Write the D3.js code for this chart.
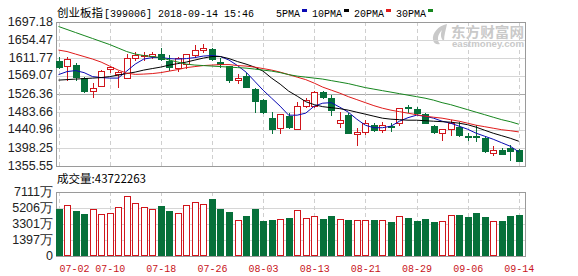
<!DOCTYPE html>
<html><head><meta charset="utf-8">
<script src="https://cdn.jsdelivr.net/npm/d3@7"></script>
<style>html,body{margin:0;padding:0;background:#fff;}svg{display:block;}</style>
</head><body><svg id="c" width="578" height="276"></svg>
<script>
const dates = ["07-02","07-03","07-04","07-05","07-06","07-09","07-10","07-11","07-12","07-13","07-16","07-17","07-18","07-19","07-20","07-23","07-24","07-25","07-26","07-27","07-30","07-31","08-01","08-02","08-03","08-06","08-07","08-08","08-09","08-10","08-13","08-14","08-15","08-16","08-17","08-20","08-21","08-22","08-23","08-24","08-27","08-28","08-29","08-30","08-31","09-03","09-04","09-05","09-06","09-07","09-10","09-11","09-12","09-13","09-14"];
const open  = [1605.7,1592.6,1595.0,1564.8,1533.2,1545.8,1584.7,1573.6,1565.3,1612.3,1617.6,1617.1,1621.1,1605.2,1587.1,1596.6,1618.7,1629.9,1632.3,1601.4,1592.6,1559.3,1568.8,1537.9,1511.8,1470.6,1445.9,1474.9,1444.5,1498.2,1498.2,1531.5,1517.2,1458.7,1476.1,1430.9,1436.4,1454.0,1440.4,1450.0,1456.4,1495.1,1490.4,1477.8,1450.0,1434.0,1444.5,1449.2,1427.4,1427.4,1423.1,1386.5,1392.9,1398.4,1392.9];
const high  = [1614.0,1613.3,1599.0,1566.4,1551.5,1583.1,1593.8,1580.7,1620.4,1626.6,1626.6,1626.6,1634.7,1618.7,1614.7,1621.1,1642.5,1644.2,1636.1,1610.9,1592.6,1572.9,1576.0,1540.3,1514.1,1483.9,1480.1,1480.9,1507.7,1515.8,1533.2,1533.2,1523.6,1483.9,1480.9,1445.2,1464.2,1457.1,1460.2,1457.1,1493.5,1499.9,1495.1,1481.5,1452.3,1444.5,1464.2,1460.2,1434.0,1452.3,1426.2,1402.4,1397.6,1404.8,1395.3];
const low   = [1587.8,1559.3,1559.3,1530.8,1519.6,1545.0,1578.3,1542.7,1564.1,1606.9,1606.9,1610.9,1606.9,1583.1,1580.7,1587.1,1614.7,1626.6,1606.9,1590.9,1555.3,1551.5,1542.7,1483.9,1480.9,1435.0,1435.0,1445.2,1442.8,1495.8,1495.8,1515.8,1476.1,1448.3,1433.3,1404.8,1432.6,1438.1,1436.4,1438.1,1452.3,1483.9,1479.5,1456.4,1433.3,1416.7,1428.6,1426.2,1416.7,1415.0,1388.8,1381.0,1383.4,1370.8,1366.7];
const close = [1590.2,1608.5,1567.2,1533.2,1539.6,1581.4,1590.9,1578.3,1612.8,1618.7,1619.9,1620.4,1609.2,1590.9,1610.9,1620.4,1630.6,1634.7,1609.2,1596.6,1559.3,1563.4,1543.4,1509.4,1482.5,1444.5,1477.8,1448.3,1498.2,1511.8,1530.1,1519.6,1488.0,1464.2,1435.0,1436.4,1458.7,1440.4,1454.0,1447.6,1492.0,1492.7,1481.5,1458.7,1436.4,1442.8,1456.4,1429.7,1425.0,1425.0,1391.2,1394.6,1385.0,1391.2,1367.5];
// volume in 万 (10k)
const volume = [5140,5614,4824,4508,5140,4469,4587,5377,6601,5851,5377,5140,5417,4824,4666,5535,5970,5653,6246,5140,4706,3837,4232,5140,3639,3758,3955,4074,5022,4074,4311,3876,4232,3955,3758,3837,3837,3837,3837,3521,4311,3995,3639,3876,3521,3718,4429,4350,4113,4587,4113,3600,3639,4232,4372];
const ma5  = [1572.4,1579.5,1581.9,1577.1,1567.6,1565.3,1564.1,1564.1,1580.7,1597.3,1609.2,1612.8,1612.8,1610.4,1609.2,1610.4,1612.8,1616.4,1617.6,1615.2,1606.9,1593.8,1578.3,1556.9,1535.5,1516.5,1497.5,1476.1,1476.1,1480.9,1497.5,1504.6,1505.8,1495.1,1483.2,1466.6,1452.3,1446.4,1446.4,1450.0,1461.8,1470.2,1476.1,1473.7,1469.0,1461.8,1457.1,1450.0,1442.8,1433.3,1426.2,1419.0,1410.7,1402.4,1389.0];
const ma10 = [1559.3,1560.5,1561.7,1562.9,1564.1,1565.3,1567.6,1571.2,1574.8,1578.3,1583.1,1586.7,1590.2,1595.0,1598.5,1602.1,1606.9,1611.6,1615.2,1615.2,1610.4,1603.3,1597.3,1590.2,1580.7,1564.1,1549.8,1533.2,1521.3,1508.2,1501.1,1496.3,1493.9,1491.6,1488.0,1483.2,1478.5,1473.7,1469.0,1466.6,1465.4,1464.2,1464.2,1463.0,1461.8,1460.7,1459.5,1457.1,1453.5,1447.6,1440.4,1433.3,1427.4,1421.4,1414.3];
const ma20 = [1630.6,1627.1,1621.1,1615.2,1609.2,1602.1,1592.6,1583.1,1576.0,1572.9,1573.6,1574.8,1577.1,1580.7,1584.3,1589.0,1591.4,1593.8,1595.0,1596.2,1596.2,1593.8,1592.6,1590.2,1586.7,1583.1,1578.3,1572.4,1566.4,1560.5,1552.2,1542.7,1535.5,1528.4,1520.1,1513.0,1505.8,1498.7,1492.7,1488.0,1484.4,1480.9,1477.3,1473.7,1471.3,1469.0,1465.4,1461.8,1457.1,1452.3,1448.8,1445.2,1441.6,1439.3,1436.4];
const ma30 = [1686.5,1679.4,1672.2,1665.1,1658.0,1650.8,1643.7,1635.4,1627.1,1621.1,1617.6,1615.2,1612.8,1606.9,1602.1,1597.3,1595.0,1593.8,1592.6,1591.4,1590.2,1589.0,1587.8,1585.5,1583.1,1580.7,1577.1,1572.4,1568.8,1566.4,1564.1,1561.7,1558.1,1554.6,1551.0,1546.2,1541.5,1537.9,1534.3,1530.8,1527.2,1523.6,1520.1,1516.5,1511.8,1505.8,1501.1,1495.1,1489.2,1483.2,1477.3,1471.3,1465.4,1460.7,1454.7];
const priceTicks = [1355.55,1398.25,1440.96,1483.66,1526.36,1569.07,1611.77,1654.47,1697.18];
const volTickValues = [-508,1397,3301,5206,7111];
const volTickLabels = ["0","1397万","3301万","5206万","7111万"];
const xTickDates = ["07-02","07-10","07-18","07-26","08-03","08-13","08-21","08-29","09-06","09-14"];
const maNames = ["5PMA","10PMA","20PMA","30PMA"];
const titleName = "创业板指";
const titleRest = "[399006] 2018-09-14 15:46";
const volCaption = "成交量:43722263";

const UP = "#d0151b", DOWN = "#06703a";
const maColors = ["#0a0ab4","#000000","#e01b1b","#16861e"];

const svg = d3.select("#c");
const L = 56.5, R = 525;
const x = d3.scalePoint().domain(dates).range([58.5, 518.8]);
const y = d3.scaleLinear().domain([1355.55, 1697.18]).range([166, 22]);
const yv = d3.scaleLinear().domain([-508, 7111]).range([256, 192]);

function mono(g, str, px, py, anchor, fill) {
  return g.append("text").attr("x", px).attr("y", py)
    .attr("font-family", "'Liberation Mono', 'DejaVu Sans Mono', monospace")
    .attr("font-size", 11.5).attr("textLength", str.length * 6)
    .attr("lengthAdjust", "spacingAndGlyphs")
    .attr("text-anchor", anchor || "start").attr("fill", fill || "#000").text(str);
}

// watermark
const wm = svg.append("g").attr("fill", "#c9c9c9");
wm.append("path").attr("d", "M447,24 C438,26 432,33 433,40 C434,44 437,45 440,44 C437,41 437,35 442,30 C440,35 441,39 444,41 C444,35 446,29 447,24 Z");
wm.append("text").attr("x", 451).attr("y", 36.5).attr("font-family", "'Noto Sans CJK SC', sans-serif")
  .attr("font-size", 14).attr("font-weight", "bold").attr("textLength", 73).attr("lengthAdjust", "spacingAndGlyphs").text("东方财富网");
wm.append("text").attr("x", 452).attr("y", 47).attr("font-family", "'Liberation Sans', Arial, sans-serif")
  .attr("font-size", 8.5).attr("font-weight", "bold").attr("textLength", 72).attr("lengthAdjust", "spacingAndGlyphs").text("eastmoney.com");

// grids main
const grid = svg.append("g").attr("shape-rendering", "crispEdges");
priceTicks.forEach((t, i) => {
  const yy = Math.round(y(t)) + 0.5;
  grid.append("line").attr("x1", L).attr("x2", R).attr("y1", yy).attr("y2", yy)
    .attr("stroke", i === 4 ? "#a8a8a8" : "#d6d6d6");
});
volTickValues.forEach((t, i) => {
  if (i === 0 || i === volTickValues.length - 1) return;
  const yy = Math.round(yv(t)) + 0.5;
  grid.append("line").attr("x1", L).attr("x2", R).attr("y1", yy).attr("y2", yy).attr("stroke", "#d6d6d6");
});
xTickDates.forEach(d => {
  const xx = Math.round(x(d)) + 0.5;
  grid.append("line").attr("x1", xx).attr("x2", xx).attr("y1", 22).attr("y2", 166)
    .attr("stroke", "#cfcfcf").attr("stroke-dasharray", "4,3");
  grid.append("line").attr("x1", xx).attr("x2", xx).attr("y1", 192).attr("y2", 256)
    .attr("stroke", "#cfcfcf").attr("stroke-dasharray", "4,3");
});
// frames
grid.append("rect").attr("x", L).attr("y", 22.5).attr("width", R - L).attr("height", 166 - 22.5)
  .attr("fill", "none").attr("stroke", "#9a9a9a");
grid.append("rect").attr("x", L).attr("y", 192.5).attr("width", R - L).attr("height", 256 - 192.5)
  .attr("fill", "none").attr("stroke", "#9a9a9a");

// candles
const cg = svg.append("g").attr("shape-rendering", "crispEdges");
dates.forEach((d, i) => {
  const cx = Math.round(x(d));
  const up = close[i] >= open[i];
  const col = up ? UP : DOWN;
  const yh = Math.round(y(high[i])), yl = Math.round(y(low[i]));
  let yt = Math.round(y(Math.max(open[i], close[i]))), yb = Math.round(y(Math.min(open[i], close[i])));
  cg.append("line").attr("x1", cx + 0.5).attr("x2", cx + 0.5).attr("y1", yh).attr("y2", yl + 1).attr("stroke", col);
  if (up) {
    if (yb - yt < 1) yb = yt + 1;
    cg.append("rect").attr("x", cx - 2.5).attr("y", yt + 0.5).attr("width", 6).attr("height", yb - yt)
      .attr("fill", "#fff").attr("stroke", col);
  } else {
    cg.append("rect").attr("x", cx - 3).attr("y", yt).attr("width", 7).attr("height", Math.max(1, yb - yt + 1))
      .attr("fill", col);
  }
  // volume
  const vt = Math.round(yv(volume[i]));
  if (up) {
    cg.append("rect").attr("x", cx - 2.5).attr("y", vt + 0.5).attr("width", 6).attr("height", 255 - vt)
      .attr("fill", "#fff").attr("stroke", col);
  } else {
    cg.append("rect").attr("x", cx - 3).attr("y", vt).attr("width", 7).attr("height", 256 - vt).attr("fill", col);
  }
});

// MA lines
[ma5, ma10, ma20, ma30].forEach((arr, k) => {
  const line = d3.line().x((v, i) => x(dates[i])).y(v => y(v));
  svg.append("path").datum(arr).attr("d", line).attr("fill", "none")
    .attr("stroke", maColors[k]).attr("stroke-width", 1);
});

// y axis labels
const ax = svg.append("g").attr("font-family", "'Liberation Sans', Arial, sans-serif").attr("font-size", 12.5).attr("fill", "#222");
priceTicks.forEach(t => {
  ax.append("text").attr("x", 53).attr("y", y(t) + 3.5).attr("text-anchor", "end").text(d3.format(".2f")(t));
});
volTickValues.forEach((t, i) => {
  ax.append("text").attr("x", 53).attr("y", yv(t) + 4).attr("text-anchor", "end").text(volTickLabels[i]);
});

// x labels
xTickDates.forEach((d, i) => {
  const xx = x(d);
  if (i === 0) mono(svg, d, 59.5, 272, "start", "#c8141a");
  else mono(svg, d, xx + 0.5, 272, "middle", "#c8141a");
});

// title
svg.append("text").attr("x", 57).attr("y", 17).attr("font-family", "'Noto Sans CJK SC', sans-serif")
  .attr("font-size", 11.5).attr("textLength", 46).attr("lengthAdjust", "spacingAndGlyphs").text(titleName);
mono(svg, titleRest, 104, 17);

// legend
let lx = 276;
maNames.forEach((n, k) => {
  mono(svg, n, lx, 17);
  const sx = lx + n.length * 6 + 2;
  svg.append("rect").attr("x", sx).attr("y", 9).attr("width", 5).attr("height", 3).attr("fill", maColors[k]);
  lx = sx + 10;
});

// volume caption
svg.append("text").attr("x", 57).attr("y", 183).attr("font-family", "'Noto Sans CJK SC', sans-serif")
  .attr("font-size", 11.5).attr("textLength", 89).attr("lengthAdjust", "spacingAndGlyphs").text(volCaption);
</script></body></html>
